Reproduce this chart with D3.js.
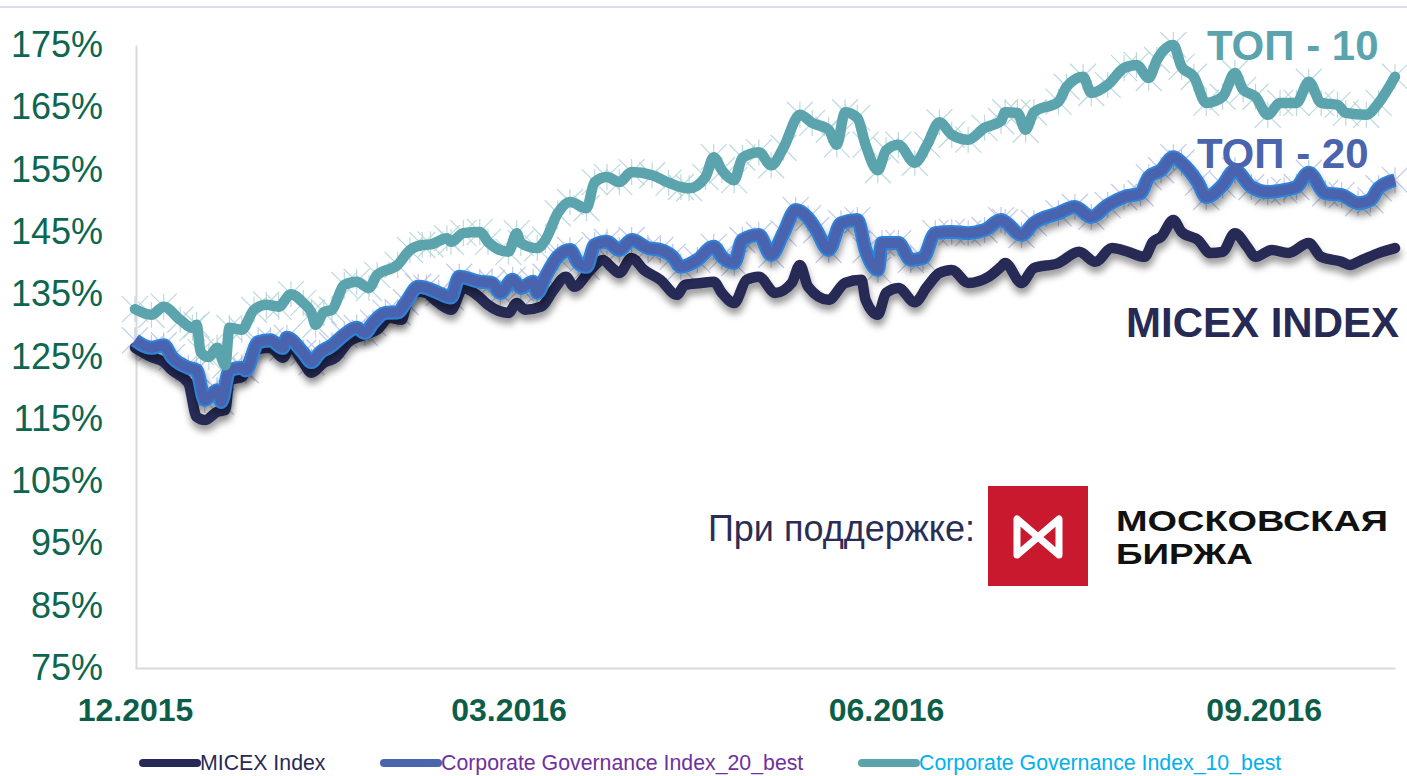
<!DOCTYPE html>
<html>
<head>
<meta charset="utf-8">
<script src="https://cdn.jsdelivr.net/npm/d3@7/dist/d3.min.js"></script>
<style>
  html, body { margin: 0; padding: 0; background: #fff; }
  svg { display: block; font-family: "Liberation Sans", Arial, sans-serif; }
</style>
</head>
<body>
<svg id="chart" width="1407" height="776"></svg>
<script>
/* ---------- data (day offset from 01.12.2015, index level in %) ---------- */
const START = new Date(2015, 11, 1);
const LAST_DAY = 307;

const micex = [[0,126.4],[4,124.9],[7,124.1],[9,122.8],[13,120.7],[15,115.3],[17,114.8],[20,116.1],[22,116.4],[23,121.2],[26,121.7],[29,126.0],[33,126.4],[36,124.8],[38,126.5],[41,124.0],[43,122.4],[46,124.0],[49,124.9],[52,127.3],[56,128.5],[59,129.3],[62,131.2],[65,130.9],[66,133.0],[69,135.4],[71,135.2],[73,134.1],[77,132.5],[80,136.0],[84,134.5],[86,133.3],[91,132.0],[93,133.6],[95,132.5],[99,133.0],[102,135.7],[105,137.8],[107,136.2],[111,138.9],[114,140.5],[116,139.4],[118,138.4],[121,140.8],[124,138.9],[128,137.3],[132,134.9],[134,136.5],[138,136.8],[141,137.0],[143,135.2],[146,133.6],[149,137.3],[152,137.8],[156,135.2],[160,136.8],[162,139.7],[164,136.2],[169,134.1],[173,136.8],[177,137.3],[178,134.1],[181,131.7],[183,135.2],[186,136.0],[190,133.7],[193,136.2],[196,138.4],[199,138.9],[203,136.8],[208,137.8],[211,139.4],[212,140.0],[216,136.8],[219,139.2],[225,140.0],[230,141.8],[234,140.2],[238,142.4],[242,141.8],[246,141.0],[248,143.4],[250,144.2],[253,146.9],[255,145.0],[259,143.7],[262,141.6],[265,141.8],[268,144.8],[271,142.6],[273,141.0],[277,142.1],[281,141.6],[286,143.2],[289,141.0],[294,140.2],[296,139.7],[299,140.5],[303,141.6],[307,142.4]];

const top20 = [[0,127.6],[4,126.4],[7,126.8],[9,124.9],[13,123.2],[15,122.8],[17,118.0],[20,119.6],[21,117.7],[23,122.8],[26,123.2],[27,122.8],[30,127.3],[33,127.6],[36,126.4],[37,128.0],[41,125.6],[43,124.1],[45,125.6],[48,126.8],[51,128.5],[54,129.6],[56,128.8],[58,130.4],[61,132.0],[64,132.1],[66,133.7],[69,136.2],[71,136.0],[74,135.2],[77,134.5],[79,137.8],[84,137.0],[87,136.8],[89,135.2],[92,137.3],[94,136.0],[97,137.0],[98,135.2],[100,137.8],[103,141.0],[106,142.1],[108,140.0],[110,139.4],[112,142.9],[115,143.4],[118,142.1],[121,143.7],[125,142.4],[128,142.1],[131,141.0],[133,139.4],[137,140.5],[141,142.6],[143,141.0],[146,140.0],[148,143.7],[152,144.5],[155,141.3],[158,144.8],[161,148.5],[164,147.2],[166,145.3],[169,142.1],[172,146.4],[176,146.9],[178,142.1],[181,138.9],[182,143.2],[186,143.2],[189,140.5],[192,140.8],[195,144.8],[199,145.0],[203,144.8],[207,145.3],[211,146.9],[212,146.6],[216,144.5],[219,146.4],[225,148.0],[229,149.0],[233,147.4],[237,149.3],[241,150.6],[245,151.2],[247,153.8],[250,154.9],[253,157.0],[255,156.1],[259,152.9],[261,150.6],[265,152.5],[268,154.9],[272,152.2],[276,151.4],[280,151.7],[283,152.2],[286,154.5],[290,151.2],[294,150.9],[298,149.6],[301,150.1],[303,152.0],[307,153.3]];

const top10 = [[0,132.6],[4,131.7],[7,133.0],[11,130.9],[14,129.6],[15,130.1],[16,125.7],[18,124.9],[20,126.4],[22,123.6],[23,129.6],[26,129.3],[29,132.5],[32,133.3],[35,133.0],[38,135.0],[41,133.6],[43,132.0],[44,130.1],[46,132.1],[48,132.5],[51,136.5],[54,137.0],[57,136.0],[59,138.1],[64,139.7],[67,142.1],[70,142.9],[72,143.0],[76,144.0],[77,143.4],[80,144.8],[84,145.0],[86,143.4],[91,141.8],[93,144.8],[94,143.2],[98,142.4],[100,143.7],[103,148.0],[106,149.8],[110,148.8],[112,153.0],[115,153.8],[118,153.0],[121,154.6],[126,154.1],[130,152.9],[133,152.2],[135,152.0],[139,153.8],[141,157.0],[143,154.9],[146,153.3],[148,156.9],[152,157.8],[155,155.7],[158,158.5],[162,163.8],[165,162.5],[169,161.4],[171,159.0],[173,164.2],[176,163.3],[178,159.0],[181,154.9],[183,158.1],[186,159.0],[190,156.1],[193,159.0],[196,162.6],[199,160.6],[203,159.8],[207,161.7],[211,162.8],[212,164.2],[215,164.1],[217,161.4],[219,164.2],[225,165.9],[227,168.3],[231,169.9],[233,167.3],[237,168.6],[241,171.3],[244,171.8],[247,169.7],[249,172.6],[253,175.0],[255,171.5],[258,169.9],[261,165.7],[265,166.7],[268,170.5],[270,167.8],[273,166.7],[276,163.8],[279,165.7],[283,165.7],[286,169.1],[289,165.7],[293,165.4],[295,164.1],[300,163.8],[303,165.7],[307,169.9]];

const yTicks = [75, 85, 95, 105, 115, 125, 135, 145, 155, 165, 175];
const xTickDates = [new Date(2015, 11, 1), new Date(2016, 2, 1), new Date(2016, 5, 1), new Date(2016, 8, 1)];
const xTickLabels = ["12.2015", "03.2016", "06.2016", "09.2016"];
const seriesNames = ["MICEX Index", "Corporate Governance Index_20_best", "Corporate Governance Index_10_best"];
const callouts = ["MICEX INDEX", "ТОП - 20", "ТОП - 10"];

/* ---------- setup ---------- */
const svg = d3.select("#chart");
const W = 1407, H = 776;
const C = {
  micex: "#262a55", top20: "#4a64ae", top20glow: "#2f83d9", top10: "#5ba4ad",
  axisText: "#0d6650", axisBold: "#0c5e49", grid: "#d9d9d9"
};

const defs = svg.append("defs");
const shadow = defs.append("filter").attr("id", "shadow")
  .attr("x", "-5%").attr("y", "-20%").attr("width", "110%").attr("height", "150%");
shadow.append("feDropShadow").attr("dx", 1).attr("dy", 6).attr("stdDeviation", 3.5)
  .attr("flood-color", "#000").attr("flood-opacity", 0.4);

svg.append("rect").attr("width", W).attr("height", H).attr("fill", "#fff");
svg.append("line").attr("x1", 0).attr("x2", W).attr("y1", 7).attr("y2", 7)
  .attr("stroke", "#dcdcf0").attr("stroke-width", 2);

const dayToDate = d => d3.timeDay.offset(START, d);
const x = d3.scaleTime().domain([START, dayToDate(LAST_DAY)]).range([135, 1395]);
const y = d3.scaleLinear().domain([75, 175]).range([668, 45]);

/* ---------- axes ---------- */
const yAxis = svg.append("g").attr("transform", "translate(136,0)")
  .call(d3.axisLeft(y).tickValues(yTicks).tickSize(0).tickPadding(33).tickFormat(d => d + "%"));
yAxis.select(".domain").attr("stroke", C.grid).attr("stroke-width", 2);
yAxis.selectAll("text").attr("fill", C.axisText).attr("font-size", 36)
  .attr("font-family", "'Liberation Sans', Arial, sans-serif");

const xAxis = svg.append("g").attr("transform", `translate(0,${y(75)})`)
  .call(d3.axisBottom(x).tickValues(xTickDates).tickSize(0).tickPadding(30)
    .tickFormat((d, i) => xTickLabels[i]));
xAxis.select(".domain").attr("stroke", C.grid).attr("stroke-width", 2);
xAxis.selectAll("text").attr("fill", C.axisBold).attr("font-size", 32).attr("font-weight", "bold")
  .attr("font-family", "'Liberation Sans', Arial, sans-serif");

/* ---------- lines ---------- */
const line = d3.line().x(d => x(dayToDate(d[0]))).y(d => y(d[1])).curve(d3.curveMonotoneX);
const star = s => `M${-s},${-s}L${s},${s}M${-s},${s}L${s},${-s}M0,${-s}L0,${s}`;

function markers(data, color) {
  svg.append("g").selectAll("path").data(data).join("path")
    .attr("transform", d => `translate(${x(dayToDate(d[0]))},${y(d[1])})`)
    .attr("d", star(13)).attr("fill", "none")
    .attr("stroke", color).attr("stroke-width", 1.2).attr("opacity", 0.9);
}

markers(top20, "#bcc3e8");
markers(top10, "#b6d6da");

svg.append("path").datum(micex).attr("d", line).attr("fill", "none")
  .attr("stroke", C.micex).attr("stroke-width", 10.5)
  .attr("stroke-linejoin", "round").attr("stroke-linecap", "round")
  .attr("filter", "url(#shadow)");

const g20 = svg.append("g").attr("filter", "url(#shadow)");
g20.append("path").datum(top20).attr("d", line).attr("fill", "none")
  .attr("stroke", C.top20glow).attr("stroke-width", 14).attr("stroke-linejoin", "miter");
g20.append("path").datum(top20).attr("d", line).attr("fill", "none")
  .attr("stroke", C.top20).attr("stroke-width", 10).attr("stroke-linejoin", "round");

svg.append("path").datum(top10).attr("d", line).attr("fill", "none")
  .attr("stroke", C.top10).attr("stroke-width", 10.5)
  .attr("stroke-linejoin", "round").attr("stroke-linecap", "round");

/* ---------- callouts ---------- */
const callout = (txt, xx, yy, col) => svg.append("text").attr("x", xx).attr("y", yy)
  .attr("fill", col).attr("font-size", 42).attr("font-weight", "bold").text(txt);
callout(callouts[2], 1207, 60, C.top10);
callout(callouts[1], 1197, 168, C.top20);
callout(callouts[0], 1126, 337, C.micex);

/* ---------- sponsor block ---------- */
svg.append("text").attr("x", 975).attr("y", 541).attr("text-anchor", "end")
  .attr("fill", "#2a2d55").attr("font-size", 36).text("При поддержке:");

const logo = svg.append("g");
logo.append("rect").attr("x", 988).attr("y", 486).attr("width", 100).attr("height", 100).attr("fill", "#c8192f");
logo.append("path").attr("d", "M1017,519L1017,555L1059,519L1059,555Z")
  .attr("fill", "none").attr("stroke", "#fff").attr("stroke-width", 7).attr("stroke-linejoin", "round");
logo.append("text").attr("x", 1116).attr("y", 531).attr("fill", "#111").attr("font-size", 30)
  .attr("font-weight", "bold").attr("textLength", 272).attr("lengthAdjust", "spacingAndGlyphs").text("МОСКОВСКАЯ");
logo.append("text").attr("x", 1116).attr("y", 564).attr("fill", "#111").attr("font-size", 30)
  .attr("font-weight", "bold").attr("textLength", 137).attr("lengthAdjust", "spacingAndGlyphs").text("БИРЖА");

/* ---------- legend ---------- */
const legendItems = [
  { name: seriesNames[0], stroke: C.micex, text: "#262a55", x0: 143 },
  { name: seriesNames[1], stroke: C.top20, text: "#7030a0", x0: 384 },
  { name: seriesNames[2], stroke: C.top10, text: "#00b0f0", x0: 862 }
];
const lg = svg.append("g").selectAll("g").data(legendItems).join("g")
  .attr("transform", d => `translate(${d.x0},763)`);
lg.append("line").attr("x1", 0).attr("x2", 54).attr("stroke", d => d.stroke)
  .attr("stroke-width", 8).attr("stroke-linecap", "round");
lg.append("text").attr("x", 57).attr("dy", "0.35em").attr("font-size", 21.3)
  .attr("fill", d => d.text).text(d => d.name);
</script>
</body>
</html>
